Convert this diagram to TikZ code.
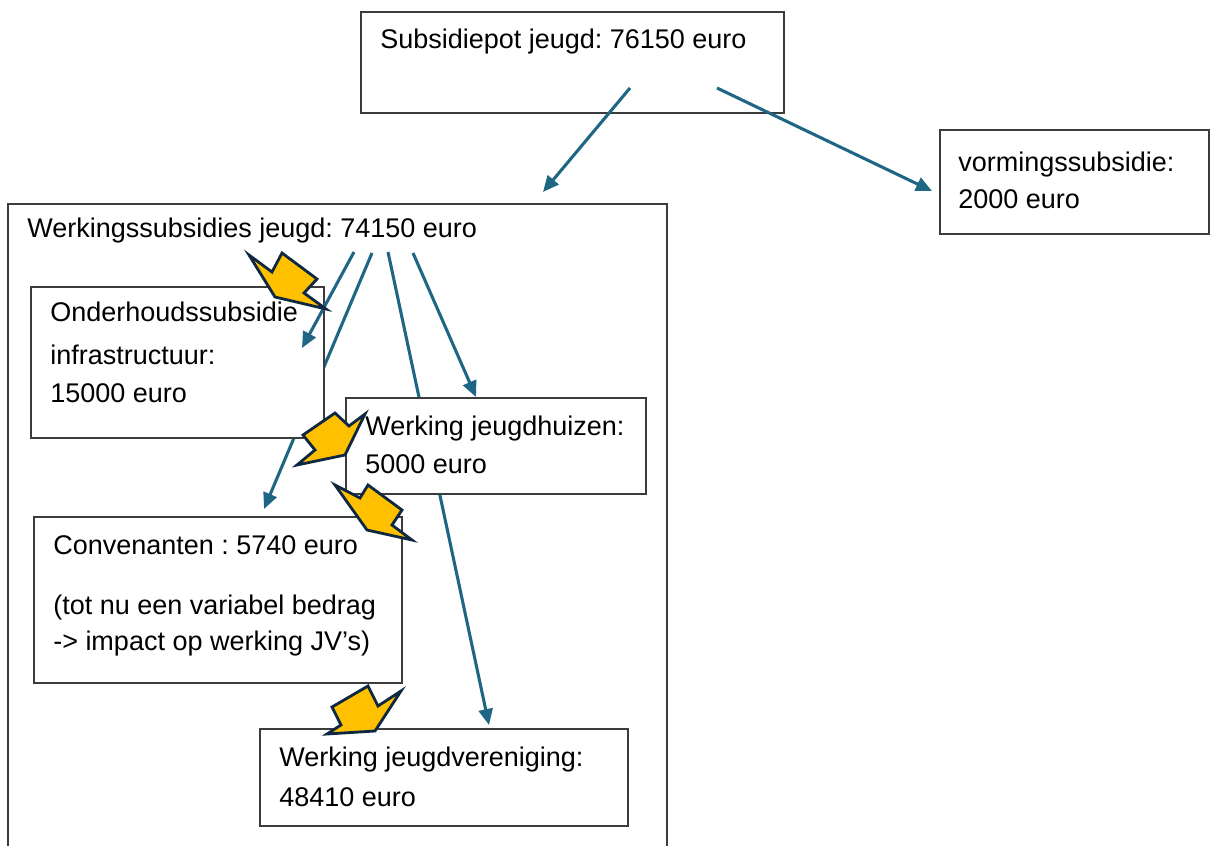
\documentclass[tikz,border=0pt]{standalone}
\usepackage{fontspec}
\setmainfont{Liberation Sans}
\usetikzlibrary{arrows.meta,fit}
\definecolor{lineblue}{RGB}{31,101,132}
\definecolor{gold}{RGB}{255,192,0}
\definecolor{navy}{RGB}{14,40,65}
\definecolor{boxgray}{RGB}{60,60,60}
\frenchspacing
\begin{document}
\begin{tikzpicture}[x=0.75pt,y=-0.75pt,
  box/.style={draw=boxgray,line width=0.9pt,fill=white,inner sep=0pt},
  txt/.style={anchor=base west,inner sep=0pt,font=\fontsize{20.25}{24}\selectfont\frenchspacing},
  conn/.style={draw=lineblue,line width=2.3pt,-{Triangle[length=12pt,width=10.5pt]}},
  bolt/.style={fill=gold,draw=navy,line width=2.1pt,line join=miter}]
\clip (0,0) rectangle (1214,846);
\fill[white] (0,0) rectangle (1214,846);

% top boxes
\node[box,fit={(361,12) (784,113)}] (sp) {};
\node[txt] (sptxt) at (380,48) {Subsidiepot jeugd: 76150 euro};
\node[box,fit={(940,130) (1209,234)}] (vs) {};
\node[txt] (vst1) at (958,171) {vormingssubsidie:};
\node[txt] (vst2) at (958,208) {2000 euro};

% big box
\node[box,fit={(8,204) (667,880)}] (ws) {};
\node[txt] (wstxt) at (27,237) {Werkingssubsidies jeugd: 74150 euro};

% connector coordinates
\coordinate (s1) at (630,88);
\coordinate (e1) at (543,192);
\coordinate (s2) at (717,88);
\coordinate (e2) at (932,191);
\coordinate (w3) at (354,252);
\coordinate (e3) at (302,348);
\coordinate (w4) at (372,253);
\coordinate (e4) at (264,509);
\coordinate (w5) at (388,252);
\coordinate (e5) at (489,725);
\coordinate (w6) at (413,253);
\coordinate (e6) at (476,397);

\draw[conn] (s1) -- (e1);
\draw[conn] (s2) -- (e2);

% lines hidden behind boxes
\draw[conn] (w4) -- (e4);
\draw[conn] (w5) -- (e5);
\draw[conn] (w6) -- (e6);

% inner boxes
\node[box,fit={(31,287) (324,438)}] (oh) {};
\node[txt] (oht1) at (50,321) {Onderhoudssubsidie};
\node[txt] (oht2) at (50,364) {infrastructuur:};
\node[txt] (oht3) at (50,402) {15000 euro};

\node[box,fit={(346,398) (646,494)}] (jh) {};
\node[txt] (jht1) at (365,435) {Werking jeugdhuizen:};
\node[txt] (jht2) at (365,473) {5000 euro};

\node[box,fit={(34,517) (402,683)}] (cv) {};
\node[txt] (cvt1) at (53,554) {Convenanten : 5740 euro};
\node[txt] (cvt2) at (53,614) {(tot nu een variabel bedrag};
\node[txt] (cvt3) at (53,650) {-> impact op werking JV’s)};

\node[box,fit={(260,729) (628,826)}] (jv) {};
\node[txt] (jvt1) at (279,766) {Werking jeugdvereniging:};
\node[txt] (jvt2) at (279,806) {48410 euro};

% line drawn over the maintenance box
\draw[conn] (w3) -- (e3);

% yellow bolt arrows
\draw[bolt] (249,255) -- (272,272) -- (282,253) -- (317,279) -- (304,293) -- (326,309) -- (275,297) -- cycle;
\draw[bolt] (365,414) -- (349,426) -- (335,413) -- (303,435) -- (315,450) -- (297,465) -- (345,455) -- cycle;
\draw[bolt] (335,485) -- (360,498) -- (368,485) -- (402,510) -- (392,525) -- (412,540) -- (367,530) -- cycle;
\draw[bolt] (401,691) -- (378,706) -- (368,686) -- (332,707) -- (341,725) -- (327,734) -- (375,731) -- cycle;
\end{tikzpicture}
\end{document}
